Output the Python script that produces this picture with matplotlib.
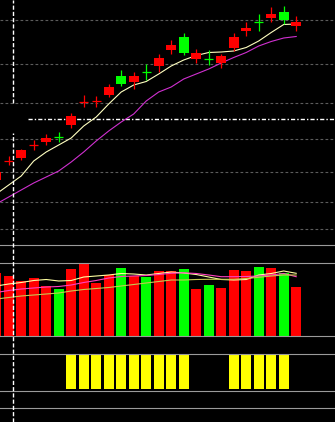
import numpy as np
import matplotlib
matplotlib.use('Agg')
from matplotlib import pyplot as plt
from matplotlib.lines import Line2D
from matplotlib import transforms

# daily candles (price), red = up, green = down
opens = [6.40, 6.79, 6.85, 7.11, 7.17, 7.27, 7.50, 7.97, 7.99, 8.10, 8.48, 8.37, 8.55,
         8.68, 9.01, 9.27, 8.83, 8.82, 8.75, 9.05, 9.38, 9.55, 9.65, 9.75, 9.49]
closes = [6.57, 6.79, 7.00, 7.11, 7.25, 7.27, 7.68, 7.97, 7.99, 8.27, 8.32, 8.48, 8.55,
          8.85, 9.10, 8.95, 8.95, 8.82, 8.88, 9.27, 9.45, 9.55, 9.71, 9.60, 9.55]
highs = [6.64, 6.89, 7.03, 7.21, 7.32, 7.37, 7.75, 8.10, 8.08, 8.32, 8.60, 8.55, 8.72,
         8.92, 9.20, 9.35, 9.03, 9.01, 8.92, 9.35, 9.55, 9.72, 9.87, 9.89, 9.69]
lows = [6.34, 6.70, 6.80, 7.01, 7.10, 7.17, 7.45, 7.86, 7.86, 8.06, 8.28, 8.23, 8.41,
        8.57, 8.92, 8.90, 8.75, 8.70, 8.63, 8.99, 9.29, 9.39, 9.55, 9.53, 9.39]
trend = ['r', 'r', 'r', 'r', 'r', 'g', 'r', 'r', 'r', 'r', 'g', 'r', 'g',
         'r', 'r', 'g', 'r', 'g', 'r', 'r', 'r', 'g', 'r', 'g', 'r']

ma5 = [6.12, 6.30, 6.48, 6.78, 6.96, 7.10, 7.24, 7.48, 7.66, 7.92, 8.16, 8.30, 8.37,
       8.52, 8.68, 8.80, 8.89, 8.95, 8.96, 8.98, 9.05, 9.18, 9.35, 9.51, 9.52]
ma10 = [5.92, 6.06, 6.20, 6.34, 6.46, 6.58, 6.76, 6.96, 7.18, 7.38, 7.56, 7.72, 7.98,
        8.16, 8.26, 8.42, 8.52, 8.62, 8.74, 8.85, 8.95, 9.08, 9.17, 9.24, 9.27]

grid_levels = [9.60, 8.72, 7.94, 7.22, 6.56, 5.96, 5.42]
ref_price = 7.62

volume = [62.7, 60, 55.3, 58.3, 50, 47, 67, 72, 53.3, 61, 68, 60, 59.3,
          65, 65, 67, 47, 51, 48.3, 66, 65, 69.3, 68.3, 63.3, 49.3]
vol_ma5 = [50, 52, 53.5, 55.5, 56.5, 55, 55.5, 59, 60, 61, 62.5, 62, 61,
           62.5, 64, 63, 61.5, 59, 56.5, 56, 56.5, 61, 62.5, 65, 62.7]
vol_ma10 = [43.5, 45.5, 47, 48, 49, 49.5, 51, 53.5, 55.5, 58, 59.5, 60, 60.5,
            61.5, 62.7, 63.2, 62.5, 61, 59.3, 59.3, 59.5, 60, 61, 62.5, 59.3]
vol_ma20 = [37, 38.5, 40, 41, 42, 43, 45, 46.5, 47.5, 48.5, 50, 51.5, 53,
            54.5, 56, 56, 56.5, 56.7, 56.7, 56.7, 57.5, 58.7, 60, 61, 61]

signal = [0, 0, 0, 0, 0, 0, 1, 1, 1, 1, 1, 1, 1, 1, 1, 1, 0, 0, 0, 1, 1, 1, 1, 1, 0]

cursor_idx = 1.35

RED = '#ff0000'
GREEN = '#00ff00'
SEP = '#9a9a9a'
colors = [RED if t == 'r' else GREEN for t in trend]

W, H = 335, 422
fig = plt.figure(figsize=(W / 100, H / 100), dpi=100, facecolor='black')


def panel(top, bottom):
    ax = fig.add_axes([0, 1 - bottom / H, 1, (bottom - top) / H])
    ax.set_facecolor('black')
    ax.set_xticks([])
    ax.set_yticks([])
    for s in ax.spines.values():
        s.set_color(SEP)
        s.set_linewidth(0.8)
    ax.spines['left'].set_visible(False)
    ax.spines['right'].set_visible(False)
    ax.set_xlim(0.304, 27.104)
    return ax


x = np.arange(len(opens))
o = np.array(opens)
c = np.array(closes)

# price panel
ax = panel(0, 245)
ax.spines['top'].set_visible(False)
ax.set_ylim(5.1, 10.0)
for g in grid_levels:
    ax.axhline(g, color='#5c5c5c', lw=0.8, ls=(0, (2.5, 2)), zorder=1)
ax.hlines(ref_price, 2.54, 27.2, color='white', lw=1.0, ls=(0, (3, 1.5, 1, 1.5)), zorder=1)
ax.plot(x, ma5, color='#ffffc0', lw=0.8, zorder=2)
ax.plot(x, ma10, color='#d030d0', lw=0.8, zorder=2)
ax.vlines(x, lows, highs, colors=colors, lw=0.9, zorder=3)
body = np.abs(c - o)
doji = body == 0
ax.bar(x[~doji], body[~doji], bottom=np.minimum(o, c)[~doji], width=0.8,
       color=np.array(colors)[~doji], zorder=4)
ax.hlines(o[doji], x[doji] - 0.35, x[doji] + 0.35, colors=np.array(colors)[doji],
          lw=0.9, zorder=4)

# volume panel
axv = panel(263, 336)
axv.set_ylim(0, 73)
axv.bar(x, volume, width=0.8, color=colors, zorder=2)
axv.plot(x, vol_ma5, color='#ffffa0', lw=0.8, zorder=3)
axv.plot(x, vol_ma10, color='#ff40c0', lw=0.8, zorder=3)
axv.plot(x, vol_ma20, color='#c8c850', lw=0.8, zorder=3)

# signal panel
axs = panel(354, 391)
axs.set_ylim(-0.06, 1.03)
axs.bar(x, signal, width=0.8, color='#ffff00', zorder=2)

# empty panel below
axe = panel(408, 422)
axe.spines['bottom'].set_visible(False)

# cursor line across all panels
tr = transforms.blended_transform_factory(ax.transData, fig.transFigure)
for y0, y1 in [(0, 1 - 133 / H), (1 - 103 / H, 1)]:
    fig.add_artist(Line2D([cursor_idx, cursor_idx], [y0, y1], transform=tr,
                          color='white', lw=1.0, ls=(0, (3, 1.5)), zorder=10))

fig.savefig('out.png', dpi=100, facecolor='black')
